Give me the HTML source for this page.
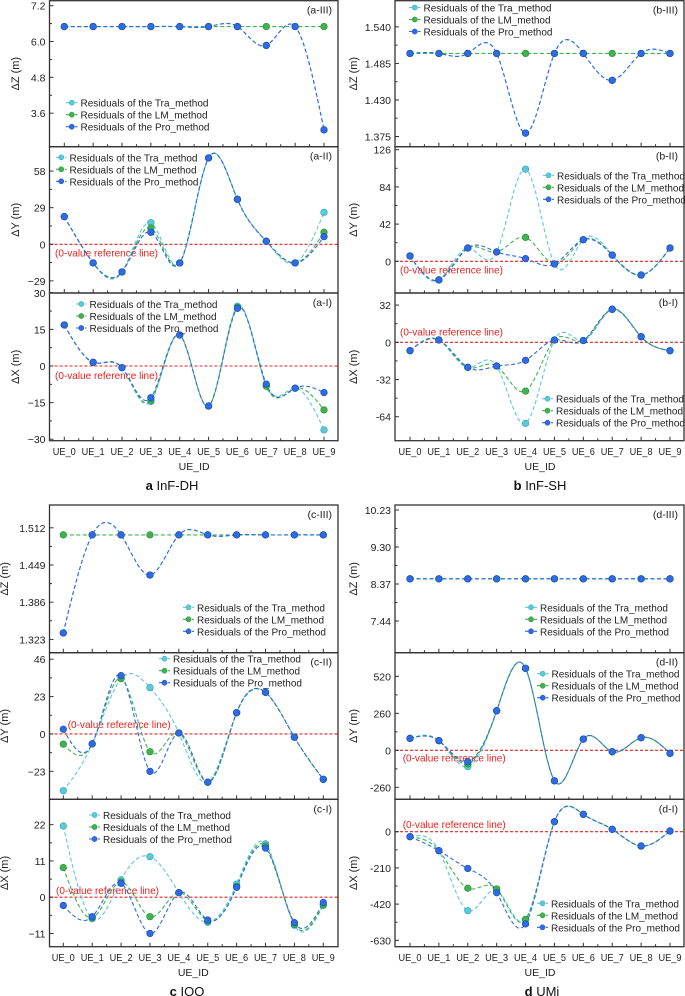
<!DOCTYPE html>
<html><head><meta charset="utf-8">
<style>
html,body{margin:0;padding:0;background:#fff;}
svg{display:block;font-family:"Liberation Sans",Arial,sans-serif;}
</style></head>
<body>
<svg id="fig" width="685" height="996" viewBox="0 0 685 996" xmlns="http://www.w3.org/2000/svg"></svg>
<script>
const ueLabels = ["UE_0","UE_1","UE_2","UE_3","UE_4","UE_5","UE_6","UE_7","UE_8","UE_9"];
// a InF-DH
const aZtra = [6.5,6.5,6.5,6.5,6.5,6.5,6.5,5.87,6.5,3.04];
const aZlm  = [6.5,6.5,6.5,6.5,6.5,6.5,6.5,6.5,6.5,6.5];
const aZpro = [6.5,6.5,6.5,6.5,6.5,6.5,6.5,5.87,6.5,3.04];
const aYtra = [21.9,-14.8,-21.9,17.1,-14.8,68.4,35.6,2.4,-14.8,25.3];
const aYlm  = [21.9,-14.8,-21.9,12.9,-14.8,68.4,35.6,2.4,-14.8,9.5];
const aYpro = [21.9,-14.8,-21.9,9.5,-14.8,68.4,35.6,2.4,-14.8,6.0];
const aXtra = [16.8,1.5,-0.7,-14.5,12.7,-16.4,24.5,-8.0,-9.1,-26.2];
const aXlm  = [16.8,1.5,-0.7,-14.0,12.7,-16.4,24.0,-8.3,-9.1,-18.0];
const aXpro = [16.8,1.5,-0.7,-13.0,12.7,-16.4,23.6,-7.4,-9.1,-10.9];
// b InF-SH
const bZtra = [1.5,1.5,1.5,1.5,1.38,1.5,1.5,1.4595,1.5,1.5];
const bZlm  = [1.5,1.5,1.5,1.5,1.5,1.5,1.5,1.5,1.5,1.5];
const bZpro = [1.5,1.5,1.5,1.5,1.38,1.5,1.5,1.4595,1.5,1.5];
const bYtra = [6,-21,15,10.5,104,-3,24.4,7,-15.5,15];
const bYlm  = [6,-21,15,10.5,27,-3,24.4,7,-15.5,15];
const bYpro = [6,-21,15,10.5,3,-3,24.4,7,-15.5,15];
const bXtra = [-7.2,2,-21.5,-20.4,-69.7,2,1.5,28.4,4.8,-7.2];
const bXlm  = [-7.2,2,-21.5,-20.4,-41.9,2,1.5,28.4,4.8,-7.2];
const bXpro = [-7.2,2,-21.5,-20.4,-15.5,2,1.5,28.4,4.8,-7.2];
// c IOO
const cZtra = [1.334,1.5,1.5,1.432,1.5,1.5,1.5,1.5,1.5,1.5];
const cZlm  = [1.5,1.5,1.5,1.5,1.5,1.5,1.5,1.5,1.5,1.5];
const cZpro = [1.334,1.5,1.5,1.432,1.5,1.5,1.5,1.5,1.5,1.5];
const cYtra = [-34.9,-6.1,34,28.5,0.6,-29.7,13.1,25.6,-2,-27.9];
const cYlm  = [-6.3,-6.1,34,-10.9,0.6,-29.7,13.1,25.6,-2,-27.9];
const cYpro = [2.9,-6.1,35.9,-23,0.6,-29.7,13.1,25.6,-2,-27.9];
const cXtra = [21.6,-6.5,5.3,12.3,1.4,-7.6,4,16.2,-8.5,-2.5];
const cXlm  = [9,-6.2,4.6,-5.9,1.4,-7.2,3.3,15.5,-8.2,-2.2];
const cXpro = [-2.5,-5.9,4.2,-11,1.4,-6.9,3,14.9,-7.7,-1.6];
// d UMi
const dZtra = [8.5,8.5,8.5,8.5,8.5,8.5,8.5,8.5,8.5,8.5];
const dZlm  = [8.5,8.5,8.5,8.5,8.5,8.5,8.5,8.5,8.5,8.5];
const dZpro = [8.5,8.5,8.5,8.5,8.5,8.5,8.5,8.5,8.5,8.5];
const dYtra = [84,68,-115,278,576,-214,79,-10,89,-21];
const dYlm  = [84,68,-95,278,576,-214,79,-10,89,-21];
const dYpro = [84,68,-80,278,576,-214,79,-10,89,-21];
const dXtra = [-29,-110,-458,-340,-510,58,101,14,-83,4];
const dXlm  = [-29,-110,-328,-332,-508,58,101,14,-83,4];
const dXpro = [-29,-110,-213,-354,-535,58,101,14,-83,4];
// tick values / labels
const aZticks=[3.6,4.8,6.0,7.2], aZtl=["3.6","4.8","6.0","7.2"];
const aYticks=[-29,0,29,58], aYtl=["\u221229","0","29","58"];
const aXticks=[-30,-15,0,15,30], aXtl=["\u221230","\u221215","0","15","30"];
const bZticks=[1.375,1.43,1.485,1.54], bZtl=["1.375","1.430","1.485","1.540"];
const bYticks=[0,42,84,126], bYtl=["0","42","84","126"];
const bXticks=[-64,-32,0,32], bXtl=["-64","-32","0","32"];
const cZticks=[1.323,1.386,1.449,1.512], cZtl=["1.323","1.386","1.449","1.512"];
const cYticks=[-23,0,23,46], cYtl=["\u221223","0","23","46"];
const cXticks=[-11,0,11,22], cXtl=["\u221211","0","11","22"];
const dZticks=[7.44,8.37,9.30,10.23], dZtl=["7.44","8.37","9.30","10.23"];
const dYticks=[-260,0,260,520], dYtl=["-260","0","260","520"];
const dXticks=[-630,-420,-210,0], dXtl=["-630","-420","-210","0"];

const NS="http://www.w3.org/2000/svg";
const svg=document.getElementById('fig');
function mk(tag,attrs,parent,text){const e=document.createElementNS(NS,tag);for(const k in attrs)e.setAttribute(k,attrs[k]);if(text!==undefined)e.textContent=text;(parent||svg).appendChild(e);return e;}
const COL={tra:"#5cc9d9",lm:"#3fb34f",pro:"#2f6be3"};
const STROKE={tra:"#2aa3b8",lm:"#238a33",pro:"#1a47b0"};
const DASH={tra:"4,2.5",lm:"4,2.5",pro:"4,2.5"};

function spline(xs,ys){const n=xs.length;const h=[],al=[0];for(let i=0;i<n-1;i++)h.push(xs[i+1]-xs[i]);
 for(let i=1;i<n-1;i++)al.push(3/h[i]*(ys[i+1]-ys[i])-3/h[i-1]*(ys[i]-ys[i-1]));
 const l=[1],mu=[0],z=[0];for(let i=1;i<n-1;i++){l[i]=2*(xs[i+1]-xs[i-1])-h[i-1]*mu[i-1];mu[i]=h[i]/l[i];z[i]=(al[i]-h[i-1]*z[i-1])/l[i];}
 const c=new Array(n).fill(0),b=[],d=[];for(let j=n-2;j>=0;j--){c[j]=z[j]-mu[j]*c[j+1];b[j]=(ys[j+1]-ys[j])/h[j]-h[j]*(c[j+1]+2*c[j])/3;d[j]=(c[j+1]-c[j])/(3*h[j]);}
 const pts=[];for(let j=0;j<n-1;j++){for(let s=0;s<20;s++){const t=h[j]*s/20;pts.push([xs[j]+t,ys[j]+b[j]*t+c[j]*t*t+d[j]*t*t*t]);}}pts.push([xs[n-1],ys[n-1]]);return pts;}

function panel(cfg){
 const g=mk('g',{},svg);
 
 
 const {L,R,T,B,u0,u9,dom}=cfg;
 const sx=i=>u0+(u9-u0)*i/9;
 const sy=v=>B-(v-dom[0])/(dom[1]-dom[0])*(B-T);
 if(cfg.zero){const z=mk('line',{x1:L,x2:R,y1:sy(0),y2:sy(0),stroke:"#e8221f","stroke-width":1.1,"stroke-dasharray":"3,2"},g);
  
  const zt=mk('text',{x:cfg.zero[0],y:cfg.zero[1]+4,"font-size":10.5,fill:"#e8221f",textLength:103,lengthAdjust:"spacingAndGlyphs"},g,"(0-value reference line)");
  }
 const ser=[["tra",cfg.tra],["lm",cfg.lm],["pro",cfg.pro]];
 ser.forEach(([k,vals])=>{
  const pts=spline(vals.map((v,i)=>sx(i)),vals.map(v=>sy(v)));
  const p=mk('polyline',{points:pts.map(p=>p[0].toFixed(1)+","+p[1].toFixed(1)).join(" "),fill:"none",stroke:COL[k],"stroke-width":1.1,"stroke-dasharray":DASH[k]},g);
  
 });
 ser.forEach(([k,vals])=>{vals.forEach((v,i)=>{
  const c=mk('circle',{cx:sx(i),cy:sy(v),r:3.3,fill:COL[k],stroke:STROKE[k],"stroke-width":0.6},g);
  });});
 const fr=mk('rect',{x:L,y:T,width:R-L,height:B-T,fill:"none",stroke:"#333","stroke-width":1.3},g);
 
 for(let i=0;i<10;i++){mk('line',{x1:sx(i),x2:sx(i),y1:B,y2:B-4,stroke:"#333","stroke-width":1},g);
  if(i<9)mk('line',{x1:sx(i+0.5),x2:sx(i+0.5),y1:B,y2:B-2.5,stroke:"#333","stroke-width":1},g);}
 const tv=cfg.ticks,tl=cfg.tl;
 tv.forEach((v,i)=>{const y=sy(v);mk('line',{x1:L,x2:L+4,y1:y,y2:y,stroke:"#333","stroke-width":1},g);
  const t=mk('text',{x:L-4,y:y+4,"font-size":10.5,"text-anchor":"end",fill:"#222"},g,tl[i]);
  
  if(i<tv.length-1){const ym=sy((v+tv[i+1])/2);mk('line',{x1:L,x2:L+2.5,y1:ym,y2:ym,stroke:"#333","stroke-width":1},g);}});
 const yt=mk('text',{x:cfg.ytx,y:(T+B)/2,"font-size":11,"text-anchor":"middle",fill:"#222",transform:`rotate(-90 ${cfg.ytx} ${(T+B)/2})`},g,cfg.ytitle);
 
 const pt=mk('text',{x:R-6,y:T+13,"font-size":10.5,"text-anchor":"end",fill:"#222"},g,cfg.tag);
 
 const lg=mk('g',{},g);
 const names=["Residuals of the Tra_method","Residuals of the LM_method","Residuals of the Pro_method"];
 const widths=[128,127,129];
 ["tra","lm","pro"].forEach((k,i)=>{const y=cfg.leg[2]+i*12;
  const e=mk('g',{},lg);
  mk('line',{x1:cfg.leg[0],x2:cfg.leg[1]-3,y1:y,y2:y,stroke:COL[k],"stroke-width":1.1,"stroke-dasharray":"3,1.5"},e);
  mk('circle',{cx:(cfg.leg[0]+cfg.leg[1]-3)/2,cy:y,r:2.6,fill:COL[k],stroke:STROKE[k],"stroke-width":0.5},e);
  mk('text',{x:cfg.leg[1],y:y+4,"font-size":10.5,fill:"#222",textLength:widths[i],lengthAdjust:"spacingAndGlyphs"},e,names[i]);});
 return {sx};
}
function xlabels(L,u0,u9,y,cap,capx){
 for(let i=0;i<10;i++){const t=mk('text',{x:u0+(u9-u0)*i/9,y:y,"font-size":10.5,"text-anchor":"middle",fill:"#222",textLength:23,lengthAdjust:"spacingAndGlyphs"},svg,ueLabels[i]);
  }
 const xt=mk('text',{x:(u0+u9)/2,y:y+15,"font-size":10.5,"text-anchor":"middle",fill:"#222"},svg,"UE_ID");
 
 const c=mk('text',{x:capx,y:y+35,"font-size":13,"text-anchor":"middle",fill:"#111"},svg);
 
 mk('tspan',{"font-weight":"bold"},c,cap[0]+" ");mk('tspan',{},c,cap[1]);
}
const LA={L:49.5,R:338,u0:64.3,u9:324};
const RB={L:395,R:684,u0:410,u9:670};
const LC={L:49.5,R:338,u0:63.3,u9:323.3};
panel({...LA,T:0.7,B:146.7,dom:[2.477,7.367],ticks:aZticks,tl:aZtl,tra:aZtra,lm:aZlm,pro:aZpro,ytitle:"\u0394Z (m)",ytx:19,tag:"(a-III)",leg:[66,80.5,102.7],name:"panel-a-III"});
panel({...LA,T:146.7,B:293,dom:[-38.6,77.3],ticks:aYticks,tl:aYtl,tra:aYtra,lm:aYlm,pro:aYpro,ytitle:"\u0394Y (m)",ytx:19,tag:"(a-II)",leg:[56,69.5,157.3],zero:[55,252.3],name:"panel-a-II"});
panel({...LA,T:293,B:440.7,dom:[-30.6,29.9],ticks:aXticks,tl:aXtl,tra:aXtra,lm:aXlm,pro:aXpro,ytitle:"\u0394X (m)",ytx:19,tag:"(a-I)",leg:[76,89.5,304],zero:[55,375],name:"panel-a-I"});
xlabels(49.5,64.3,324,455,["a","InF-DH"],172);
panel({...RB,T:0.7,B:146.7,dom:[1.3596,1.5794],ticks:bZticks,tl:bZtl,tra:bZtra,lm:bZlm,pro:bZpro,ytitle:"\u0394Z (m)",ytx:357,tag:"(b-III)",leg:[409,423.5,7.5],name:"panel-b-III"});
panel({...RB,T:146.7,B:293,dom:[-35.8,129.4],ticks:bYticks,tl:bYtl,tra:bYtra,lm:bYlm,pro:bYpro,ytitle:"\u0394Y (m)",ytx:357,tag:"(b-II)",leg:[543,557,175.3],zero:[400,269.3],name:"panel-b-II"});
panel({...RB,T:293,B:440.7,dom:[-84.6,42.4],ticks:bXticks,tl:bXtl,tra:bXtra,lm:bXlm,pro:bXpro,ytitle:"\u0394X (m)",ytx:357,tag:"(b-I)",leg:[542,556,398.7],zero:[400,331.7],name:"panel-b-I"});
xlabels(395,410,670,455,["b","InF-SH"],540);
panel({...LC,T:505,B:652.7,dom:[1.3005,1.5506],ticks:cZticks,tl:cZtl,tra:cZtra,lm:cZlm,pro:cZpro,ytitle:"\u0394Z (m)",ytx:8,tag:"(c-III)",leg:[183,197,607.3],name:"panel-c-III"});
panel({...LC,T:652.7,B:799.3,dom:[-40.2,50],ticks:cYticks,tl:cYtl,tra:cYtra,lm:cYlm,pro:cYpro,ytitle:"\u0394Y (m)",ytx:8,tag:"(c-II)",leg:[159,173,658.7],zero:[67.7,724],name:"panel-c-II"});
panel({...LC,T:799.3,B:946.7,dom:[-15,29.7],ticks:cXticks,tl:cXtl,tra:cXtra,lm:cXlm,pro:cXpro,ytitle:"\u0394X (m)",ytx:8,tag:"(c-I)",leg:[89,103,815],zero:[56,890],name:"panel-c-I"});
xlabels(49.5,63.3,323.3,961,["c","IOO"],187);
panel({...RB,T:505,B:652.7,dom:[6.643,10.356],ticks:dZticks,tl:dZtl,tra:dZtra,lm:dZlm,pro:dZpro,ytitle:"\u0394Z (m)",ytx:357,tag:"(d-III)",leg:[525,540,607.3],name:"panel-d-III"});
panel({...RB,T:652.7,B:799.3,dom:[-344,686],ticks:dYticks,tl:dYtl,tra:dYtra,lm:dYlm,pro:dYpro,ytitle:"\u0394Y (m)",ytx:357,tag:"(d-II)",leg:[537,551.5,673.7],zero:[402.7,757.7],name:"panel-d-II"});
panel({...RB,T:799.3,B:946.7,dom:[-667,188],ticks:dXticks,tl:dXtl,tra:dXtra,lm:dXlm,pro:dXpro,ytitle:"\u0394X (m)",ytx:357,tag:"(d-I)",leg:[537,551,903.3],zero:[402.7,824],name:"panel-d-I"});
xlabels(395,410,670,961,["d","UMi"],542);
</script>
</body></html>
